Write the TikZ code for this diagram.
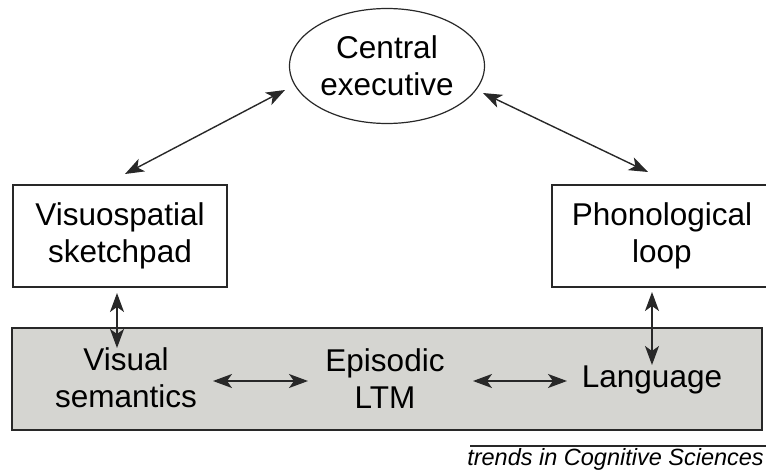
\documentclass[tikz,border=0pt]{standalone}
\usepackage{fontspec}
\setmainfont{Liberation Sans}
\usetikzlibrary{arrows.meta,shapes.geometric}

\definecolor{frame}{RGB}{40,40,40}
\definecolor{ltmfill}{RGB}{213,213,209}

\tikzset{
  label/.style={font=\fontsize{31.5}{37}\selectfont, align=center, inner sep=0pt, text=black},
  module/.style={draw=frame, line width=1.6pt, minimum width=214pt, minimum height=102pt, inner sep=0pt},
  link/.style={line width=1.4pt, draw=frame,
    {Stealth[length=19pt,width=14pt,inset=5pt]}-{Stealth[length=19pt,width=14pt,inset=5pt]}},
}

\begin{document}
\begin{tikzpicture}[x=1pt,y=-1pt]
\useasboundingbox (0,0) rectangle (766,471);

% long-term memory band
\node[draw=frame, line width=1.6pt, fill=ltmfill, minimum width=750pt, minimum height=102pt, inner sep=0pt] (ltmband) at (387,379) {};

% components of working memory
\node[ellipse, draw=frame, line width=1.2pt, minimum width=195pt, minimum height=115pt, label] (ce) at (387,66) {Central\\executive};
\node[module, label] (vs) at (120,236) {Visuospatial\\sketchpad};
\node[module, minimum width=220pt, label] (pl) at (662,236) {Phonological\\loop};

% long-term stores
\node[label] (vsem) at (126,378) {Visual\\semantics};
\node[label] (ltm) at (385,379) {Episodic\\LTM};
\node[label] (lang) at (652,380) {Language};

% connector end points
\coordinate (ceL) at (285,90);
\coordinate (vsT) at (125,174);
\coordinate (ceR) at (483,93);
\coordinate (plT) at (648,172);
\coordinate (vsB) at (117,293);
\coordinate (vsemT) at (117,348);
\coordinate (plB) at (652,292);
\coordinate (langT) at (652,365);
\coordinate (vsemR) at (213,381);
\coordinate (ltmL) at (308,381);
\coordinate (ltmR) at (473,381);
\coordinate (langL) at (567,381);

\draw[link] (ceL) -- (vsT);
\draw[link] (ceR) -- (plT);
\draw[link] (vsB) -- (vsemT);
\draw[link] (plB) -- (langT);
\draw[link] (vsemR) -- (ltmL);
\draw[link] (ltmR) -- (langL);

% source line
\coordinate (ruleL) at (470,446);
\coordinate (ruleR) at (766,446);
\draw[frame, line width=1.2pt] (ruleL) -- (ruleR);
\node[anchor=base east, inner sep=0pt, font=\fontsize{23.5}{26}\selectfont\itshape, text=black] (src) at (764,465) {trends in Cognitive Sciences};
\end{tikzpicture}
\end{document}
